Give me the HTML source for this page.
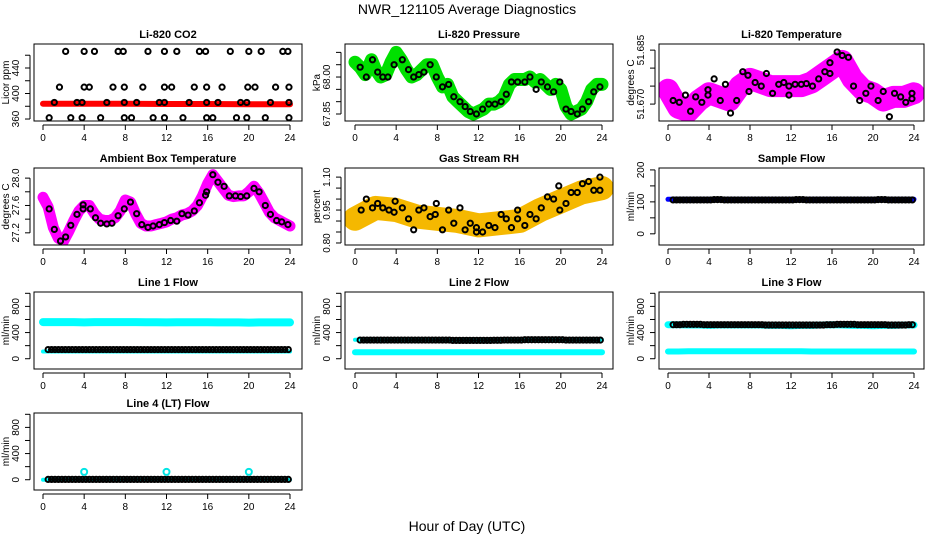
<!DOCTYPE html>
<html><head><meta charset="utf-8">
<style>
html,body{margin:0;padding:0;background:#fff;}
svg{display:block;font-family:"Liberation Sans",Arial,sans-serif;}
.pt{font-weight:bold;font-size:11px;}
.tk{font-size:10px;}
</style></head>
<body>
<svg id="chart" width="936" height="540" viewBox="0 0 936 540" xmlns="http://www.w3.org/2000/svg">
<text x="467" y="14" text-anchor="middle" font-size="14">NWR_121105  Average Diagnostics</text>
<text x="467" y="531" text-anchor="middle" font-size="14">Hour of Day (UTC)</text>
</svg>
<script>
// ---------- data ----------
const xTicks = [0,4,8,12,16,20,24];
// Li-820 CO2
const co2PtHours = [2.2,4,5,7.3,7.8,10.2,11.8,13,15.2,15.8,18.2,20,21.2,23.3,23.8,
  1.6,4,4.5,6.8,7.9,9.7,11.8,12.5,14.7,15.9,17.4,19.9,20.6,22.6,23.9,
  1.1,3.3,3.8,6.2,7.9,9.1,11.3,11.8,14.2,15.9,17,19.2,19.8,22.1,23.9,
  0.6,2.7,3.8,5.6,7.9,8.6,10.7,11.8,13.6,15.9,16.5,18.8,19.8,21.6,23.9];
const co2PtValues = [466,466,466,466,466,466,466,466,466,466,466,466,466,466,466,
  410,410,410,410,410,410,410,410,410,410,410,410,410,410,410,
  386,386,386,386,386,386,386,386,386,386,386,386,386,386,386,
  362,362,362,362,362,362,362,362,362,362,362,362,362,362,362];
const co2BandHours = [0,4,8,12,16,20,24];
const co2BandValues = [384,384,384,383.5,383.5,383,383];
// Pressure
const presBandHours = [0,0.5,1,1.6,2,2.5,3,3.5,4,4.5,5,5.5,6,6.5,7,7.5,8,8.5,9,9.5,10,10.5,11,11.5,12,12.5,13,13.5,14,14.5,15,15.5,16,16.5,17,17.5,18,18.5,19,19.5,20,20.5,21,21.5,22,22.5,23,23.5,24];
const presBandValues = [68.06,68.04,68.01,68.07,68.03,68.0,68.01,68.06,68.10,68.07,68.03,68.0,68.01,68.03,68.05,68.05,68.0,67.96,67.97,67.92,67.90,67.88,67.86,67.85,67.86,67.87,67.89,67.89,67.90,67.92,67.97,67.99,67.99,67.99,68.0,67.98,67.99,67.97,67.95,67.97,67.95,67.88,67.85,67.86,67.87,67.90,67.95,67.97,67.97];
const presPtHours = [0.5,1.1,1.7,2.2,2.7,3.2,3.8,4.6,5.2,5.7,6.2,6.7,7.3,7.9,8.5,9.1,9.6,10.2,10.7,11.2,11.8,12.4,13,13.6,14.2,14.7,15.2,15.8,16.5,17,17.6,18.1,18.7,19.3,19.9,20.5,21,21.6,22.1,22.7,23.2,23.8];
const presPtValues = [68.04,68.0,68.07,68.02,68.0,68.0,68.05,68.07,68.03,68.0,68.01,68.02,68.05,68.0,67.96,67.97,67.92,67.90,67.88,67.86,67.85,67.87,67.89,67.89,67.90,67.93,67.98,67.98,67.98,68.0,67.95,67.98,67.96,67.94,67.98,67.87,67.86,67.85,67.87,67.90,67.94,67.96];
// Temperature
const tempBandHours = [0,1,2,3,4,5,6,7,8,9,10,11,12,13,14,15,16,17,18,19,20,21,22,23,24];
const tempBandValues = [51.674,51.669,51.668,51.671,51.673,51.672,51.671,51.675,51.677,51.676,51.675,51.675,51.675,51.675,51.676,51.678,51.680,51.682,51.677,51.674,51.673,51.671,51.672,51.672,51.673];
const tempPtHours = [0.5,1.1,1.7,2.2,2.7,3.3,3.9,3.9,4.5,5.1,5.6,6.1,6.7,7.3,7.8,7.9,8.5,9.1,9.6,10.2,10.8,11.3,11.8,11.8,12.4,13,13.5,14.1,14.7,15.3,15.8,15.8,16.5,17,17.6,18.1,18.7,19.3,19.8,20.5,21,21.6,22.1,22.7,23.2,23.8,23.8];
const tempPtValues = [51.671,51.6705,51.6725,51.668,51.672,51.6705,51.6725,51.674,51.677,51.671,51.6755,51.6675,51.671,51.679,51.678,51.6735,51.676,51.675,51.6785,51.673,51.6755,51.676,51.675,51.6725,51.6755,51.6755,51.6757,51.675,51.677,51.679,51.6815,51.6785,51.6845,51.6835,51.683,51.675,51.671,51.673,51.675,51.671,51.6735,51.6665,51.673,51.672,51.6705,51.6715,51.673];
// Ambient box temperature
const ambBandHours = [0,0.5,1,1.5,2,2.5,3,3.5,4,4.5,5,5.5,6,6.5,7,7.5,8,8.5,9,9.5,10,10.5,11,11.5,12,12.5,13,13.5,14,14.5,15,15.5,16,16.5,17,17.5,18,18.5,19,19.5,20,20.5,21,21.5,22,22.5,23,23.5,24];
const ambBandValues = [27.72,27.58,27.28,27.12,27.08,27.22,27.38,27.52,27.6,27.6,27.48,27.40,27.38,27.38,27.42,27.52,27.68,27.65,27.48,27.34,27.30,27.30,27.32,27.34,27.36,27.40,27.42,27.46,27.48,27.52,27.6,27.74,27.92,28.05,27.95,27.85,27.75,27.73,27.74,27.74,27.80,27.88,27.78,27.64,27.50,27.42,27.38,27.34,27.30];
const ambPtHours = [0.6,1.1,1.7,2.2,2.7,3.3,3.9,3.9,4.6,5.1,5.6,6.2,6.7,7.3,7.9,8.5,9.1,9.6,10.2,10.7,11.3,11.8,12.4,13,13.5,14.1,14.7,15.2,15.8,15.9,16.5,17,17.6,18.1,18.7,19.2,19.8,20.5,21,21.6,22.1,22.7,23.2,23.8];
const ambPtValues = [27.55,27.25,27.08,27.14,27.31,27.47,27.55,27.61,27.55,27.42,27.34,27.33,27.34,27.45,27.55,27.65,27.48,27.32,27.28,27.30,27.32,27.35,27.38,27.37,27.48,27.46,27.52,27.64,27.75,27.80,28.05,27.94,27.88,27.74,27.74,27.73,27.74,27.85,27.80,27.60,27.47,27.38,27.36,27.32];
// Gas stream RH
const rhBandHours = [0,2,4,6,8,10,12,14,16,18,20,22,24];
const rhBandValues = [0.91,0.96,0.95,0.92,0.91,0.90,0.88,0.89,0.90,0.95,0.99,1.03,1.05];
const rhPtHours = [0.6,1.1,1.7,2.2,2.7,3.3,3.8,3.9,4.6,5.2,5.7,6.2,6.7,7.3,7.8,7.9,8.5,9.1,9.6,10.2,10.7,11.2,11.8,11.8,12.4,13,13.6,14.2,14.7,15.2,15.8,15.8,16.5,17,17.6,18.1,18.7,19.3,19.8,19.9,20.5,21,21.6,22.1,22.7,23.2,23.8,23.8];
const rhPtValues = [0.95,1.0,0.96,0.98,0.96,0.95,0.94,0.99,0.96,0.91,0.86,0.95,0.96,0.92,0.93,0.98,0.86,0.95,0.89,0.96,0.86,0.89,0.85,0.87,0.85,0.88,0.87,0.93,0.91,0.87,0.95,0.91,0.88,0.93,0.91,0.96,1.01,1.0,1.06,0.95,0.98,1.03,1.03,1.07,1.08,1.04,1.10,1.04];
// Flows (hourly values; three samples per hour drawn)
const flowHours = [0,1,2,3,4,5,6,7,8,9,10,11,12,13,14,15,16,17,18,19,20,21,22,23];
const sampleBlue  = [108,108,108,108,108,108,108,108,108,108,108,108,108,108,108,108,108,108,108,108,108,108,108,108];
const sampleBlack = [106,106,106,106,107,106,106,106,106,106,106,106,107,106,106,106,106,106,106,106,107,106,106,106];
const line1High = [560,560,560,560,555,560,560,560,560,560,558,558,555,558,558,558,558,556,556,556,552,555,555,555];
const line1Low  = [110,110,110,110,110,110,110,110,110,110,110,110,110,110,110,110,110,110,110,110,110,110,110,110];
const line1Black= [140,140,140,140,140,140,140,140,140,140,140,140,140,140,140,140,140,140,140,140,140,140,140,140];
const line2High = [290,290,290,290,285,290,290,290,290,285,280,280,275,285,285,290,290,290,290,290,285,290,290,290];
const line2Low  = [100,100,100,100,100,100,100,100,100,100,100,100,100,100,100,100,100,100,100,100,100,100,100,100];
const line2Black= [285,285,285,285,285,285,285,285,285,280,280,280,280,282,285,285,290,290,290,290,285,285,285,285];
const line3High = [520,520,515,515,510,515,515,515,515,515,510,510,505,510,510,515,520,515,510,510,505,510,510,515];
const line3Low  = [110,110,115,115,115,115,115,115,115,115,115,115,115,115,110,110,110,110,110,110,110,110,110,110];
const line3Black= [520,525,525,520,520,520,520,520,520,515,515,515,515,515,515,520,525,525,520,520,520,515,515,520];
const line4Cyan = [0,0,0,0,0,0,0,0,0,0,0,0,0,0,0,0,0,0,0,0,0,0,0,0];
const line4Black= [5,5,5,5,5,5,5,5,5,5,5,5,5,5,5,5,5,5,5,5,5,5,5,5];
const line4SpikeHours = [4,12,20];
const line4SpikeValues = [120,120,120];
</script>
<script>
const svg = document.getElementById('chart');
const NS = 'http://www.w3.org/2000/svg';
const cols = [{l:34,r:302,x0:43,x24:290},{l:345,r:613,x0:355,x24:602},{l:659,r:924,x0:668,x24:914}];
const rowTop = [44,168,292,413];
const H = 77;
function mk(tag, attrs, parent){
  const e = document.createElementNS(NS, tag);
  for (const k in attrs) e.setAttribute(k, attrs[k]);
  (parent||svg).appendChild(e);
  return e;
}
function panel(name, col, row, title, ylab, dom, yticks, ylabels){
  const c = cols[col], top = rowTop[row], bot = top + H;
  const g = mk('g', {});
  
  
  const xs = h => c.x0 + (c.x24 - c.x0) * h / 24;
  const ys = v => bot - (v - dom[0]) / (dom[1] - dom[0]) * H;
  const clip = 'clip-' + name;
  const cp = mk('clipPath', {id: clip}, g);
  mk('rect', {x:c.l, y:top, width:c.r-c.l, height:H}, cp);
  const plot = mk('g', {'clip-path':'url(#'+clip+')'}, g);
  
  
  const t = mk('text', {x:(c.l+c.r)/2, y:top-6, 'text-anchor':'middle', class:'pt'}, g);
  t.textContent = title;
  
  
  const box = mk('rect', {x:c.l, y:top, width:c.r-c.l, height:H, fill:'none', stroke:'#000', 'stroke-width':1}, g);
  
  
  const xa = mk('g', {}, g);
  
  
  mk('line', {x1:xs(0), x2:xs(24), y1:bot+4, y2:bot+4, stroke:'#000'}, xa);
  xTicks.forEach(h => {
    mk('line', {x1:xs(h), x2:xs(h), y1:bot+4, y2:bot+9, stroke:'#000'}, xa);
    const tt = mk('text', {x:xs(h), y:bot+20, 'text-anchor':'middle', class:'tk'}, xa);
    tt.textContent = h;
  });
  const ya = mk('g', {}, g);
  
  
  const ax = c.l - 4;
  mk('line', {x1:ax, x2:ax, y1:ys(yticks[0]), y2:ys(yticks[yticks.length-1]), stroke:'#000'}, ya);
  yticks.forEach(v => mk('line', {x1:ax-5, x2:ax, y1:ys(v), y2:ys(v), stroke:'#000'}, ya));
  ylabels.forEach(v => {
    const y = ys(parseFloat(v));
    const tt = mk('text', {x:0, y:0, 'text-anchor':'middle', class:'tk', transform:`translate(${ax-11},${y}) rotate(-90)`}, ya);
    tt.textContent = v;
  });
  const yt = mk('text', {x:0, y:0, 'text-anchor':'middle', class:'tk', transform:`translate(${c.l-25},${(top+bot)/2}) rotate(-90)`}, g);
  yt.textContent = ylab;
  
  
  return {plot, xs, ys};
}
function band(p, name, hrs, vals, color, w){
  const d = hrs.map((h,i)=>(i?'L':'M')+p.xs(h).toFixed(1)+','+p.ys(vals[i]).toFixed(1)).join(' ');
  const e = mk('path', {d, fill:'none', stroke:color, 'stroke-width':w, 'stroke-linecap':'round', 'stroke-linejoin':'round'}, p.plot);
  
  
}
function pts(p, name, hrs, vals, color, r, sw){
  const g = mk('g', {}, p.plot);
  
  
  hrs.forEach((h,i)=> mk('circle', {cx:p.xs(h), cy:p.ys(vals[i]), r:r||2.6, fill:'none', stroke:color, 'stroke-width':sw||2}, g));
}
function densePts(p, name, vals, color, offs){
  const g = mk('g', {}, p.plot);
  
  
  flowHours.forEach((h,i)=>{
    [0,1/3,2/3].forEach(f=>{
      const hh = h + f + (offs||0.5);
      if (hh <= 24) mk('circle', {cx:p.xs(hh), cy:p.ys(vals[i]), r:2.6, fill:'none', stroke:color, 'stroke-width':2}, g);
    });
  });
}
function flowBand(p, name, vals, color, w){
  const hrs = flowHours.concat([24]);
  const v = vals.concat([vals[vals.length-1]]);
  band(p, name, hrs, v, color, w);
}

let p = panel('co2',0,0,'Li-820 CO2','Licor ppm',[356.9,477.6],[360,380,400,420,440,460],['360','400','440']);
band(p,'co2-red-band',co2BandHours,co2BandValues,'#f00',6);
pts(p,'co2-black-points',co2PtHours,co2PtValues,'#000');

p = panel('pressure',1,0,'Li-820 Pressure','kPa',[67.8216,68.134],[67.85,67.90,67.95,68.00,68.05,68.10],['67.85','68.00']);
band(p,'pressure-green-band',presBandHours,presBandValues,'#00e000',13);
pts(p,'pressure-black-points',presPtHours,presPtValues,'#000');

p = panel('temperature',2,0,'Li-820 Temperature','degrees C',[51.6653,51.6867],[51.670,51.675,51.680,51.685],['51.670','51.685']);
band(p,'temperature-magenta-band',tempBandHours,tempBandValues,'#f0f',22);
pts(p,'temperature-black-points',tempPtHours,tempPtValues,'#000');

p = panel('ambient',0,1,'Ambient Box Temperature','degrees C',[27.022,28.148],[27.2,27.4,27.6,27.8,28.0],['27.2','27.6','28.0']);
band(p,'ambient-magenta-band',ambBandHours,ambBandValues,'#f0f',11);
pts(p,'ambient-black-points',ambPtHours,ambPtValues,'#000');

p = panel('rh',1,1,'Gas Stream RH','percent',[0.7908,1.1415],[0.80,0.85,0.90,0.95,1.00,1.05,1.10],['0.80','0.95','1.10']);
band(p,'rh-orange-band',rhBandHours,rhBandValues,'#f5b800',24);
pts(p,'rh-black-points',rhPtHours,rhPtValues,'#000');

p = panel('sample-flow',2,1,'Sample Flow','ml/min',[-35,206],[0,50,100,150,200],['0','100','200']);
flowBand(p,'sample-flow-blue',sampleBlue,'#0000ff',5);
densePts(p,'sample-flow-black-points',sampleBlack,'#000');

const fdom = [-157,1020], ft=[0,200,400,600,800,1000], fl=['0','400','800'];
p = panel('line1-flow',0,2,'Line 1 Flow','ml/min',fdom,ft,fl);
flowBand(p,'line1-cyan-high',line1High,'#00ffff',8);
flowBand(p,'line1-cyan-low',line1Low,'#00ffff',4);
densePts(p,'line1-black-points',line1Black,'#000');

p = panel('line2-flow',1,2,'Line 2 Flow','ml/min',fdom,ft,fl);
flowBand(p,'line2-cyan-high',line2High,'#00ffff',4);
flowBand(p,'line2-cyan-low',line2Low,'#00ffff',6);
densePts(p,'line2-black-points',line2Black,'#000');

p = panel('line3-flow',2,2,'Line 3 Flow','ml/min',fdom,ft,fl);
flowBand(p,'line3-cyan-high',line3High,'#00ffff',7);
flowBand(p,'line3-cyan-low',line3Low,'#00ffff',6);
densePts(p,'line3-black-points',line3Black,'#000');

p = panel('line4-flow',0,3,'Line 4 (LT) Flow','ml/min',fdom,ft,fl);
flowBand(p,'line4-cyan',line4Cyan,'#00ffff',4);
densePts(p,'line4-black-points',line4Black,'#000');
pts(p,'line4-cyan-spikes',line4SpikeHours,line4SpikeValues,'#00e5e5',3,2);
</script>
</body></html>
